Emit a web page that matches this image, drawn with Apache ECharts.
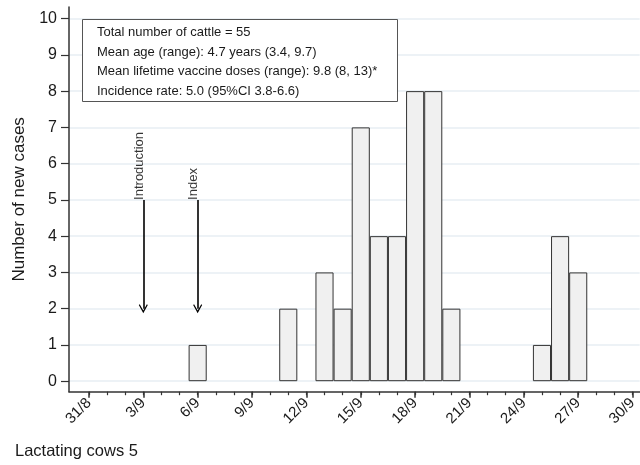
<!DOCTYPE html>
<html>
<head>
<meta charset="utf-8">
<script src="https://cdn.jsdelivr.net/npm/echarts@6/dist/echarts.min.js"></script>
<style>
html,body{margin:0;padding:0;background:#fff;}
#chart{width:640px;height:465px;}
</style>
</head>
<body>
<div id="chart"></div>
<script>
// ---- data ----
const tickLabels = ['31/8','3/9','6/9','9/9','12/9','15/9','18/9','21/9','24/9','27/9','30/9'];
const caseDates = ['6/9','11/9','13/9','14/9','15/9','16/9','17/9','18/9','19/9','20/9','25/9','26/9','27/9'];
const newCases = [1,2,3,2,7,4,4,8,8,2,1,4,3];
const yTicks = [0,1,2,3,4,5,6,7,8,9,10];
const annotationNames = ['Introduction','Index'];
const annotationDates = ['3/9','6/9'];
const arrowFrom = 5;
const arrowTo = 2;
const infoLines = [
  'Total number of cattle = 55',
  'Mean age (range): 4.7 years (3.4, 9.7)',
  'Mean lifetime vaccine doses (range): 9.8 (8, 13)*',
  'Incidence rate: 5.0 (95%CI 3.8-6.6)'
];
const footer = 'Lactating cows 5';
const yTitle = 'Number of new cases';

// day index: 31/8 -> 0, d/9 -> d
function dayIndex(s){
  const p = s.split('/');
  return p[1] === '8' ? Number(p[0]) - 31 : Number(p[0]);
}
const majorTickVals = tickLabels.map(dayIndex);
const labelByVal = {};
tickLabels.forEach(t => labelByVal[dayIndex(t)] = t);
const minorTickVals = [];
for (let d = majorTickVals[0]; d <= majorTickVals[majorTickVals.length-1]; d++) minorTickVals.push(d);

const barData = caseDates.map((d,i) => [dayIndex(d), newCases[i]]);
const arrowLines = annotationDates.map(d => [{coord:[dayIndex(d), arrowFrom]}, {coord:[dayIndex(d), arrowTo]}]);
const labelPoints = annotationDates.map((d,i) => ({name: annotationNames[i], value:[dayIndex(d), arrowFrom]}));

const FONT = '"Liberation Sans", Arial, sans-serif';
const chart = echarts.init(document.getElementById('chart'), null, {renderer:'canvas'});

const graphics = [
  {type:'rect', left:82, top:19, z:100, shape:{width:315, height:82},
   style:{fill:'#fff', stroke:'#555', lineWidth:1}}
];
const lineY = [32.5, 52, 71.5, 91];
infoLines.forEach((t,i) => graphics.push({
  type:'text', x:97, y:lineY[i], z:101,
  style:{text:t, fill:'#1a1a1a', font:'13px ' + FONT, verticalAlign:'middle', align:'left'}
}));
graphics.push({type:'text', x:15, y:451, z:101,
  style:{text:footer, fill:'#1a1a1a', font:'16.5px ' + FONT, verticalAlign:'middle', align:'left'}});

chart.setOption({
  animation:false,
  backgroundColor:'#fff',
  grid:{left:69, right:0, top:7, bottom:73.3, containLabel:false},
  xAxis:[{
    type:'value', min:-1.1, max:30.39, position:'bottom',
    axisLine:{show:true, onZero:false, lineStyle:{color:'#333', width:1.5}},
    axisTick:{show:true, customValues:majorTickVals, length:6, lineStyle:{color:'#333', width:1.5}},
    axisLabel:{show:true, customValues:majorTickVals, formatter:v => labelByVal[v] || '',
      rotate:45, margin:9, fontSize:15, color:'#1a1a1a', fontFamily:FONT},
    splitLine:{show:false}
  },{
    type:'value', min:-1.1, max:30.39, position:'bottom', gridIndex:0, offset:0,
    axisLine:{show:false, onZero:false},
    axisTick:{show:true, customValues:minorTickVals, length:3.5, lineStyle:{color:'#333', width:1.2}},
    axisLabel:{show:false},
    splitLine:{show:false}
  }],
  yAxis:{
    type:'value', min:-0.29, max:10.32,
    name:yTitle, nameLocation:'middle', nameGap:37, nameRotate:90,
    nameTextStyle:{fontSize:17, color:'#1a1a1a', fontFamily:FONT},
    axisLine:{show:true, onZero:false, lineStyle:{color:'#333', width:1.5}},
    axisTick:{show:true, customValues:yTicks, length:8, lineStyle:{color:'#333', width:1.2}},
    axisLabel:{show:true, customValues:yTicks, margin:12, fontSize:16, color:'#1a1a1a', fontFamily:FONT},
    splitLine:{show:true, lineStyle:{color:'#edf2f6', width:2}}
  },
  series:[{
    type:'bar', xAxisIndex:0, data:barData, barWidth:18.1,
    itemStyle:{color:'#f0f0f0', borderColor:'#333', borderWidth:1},
    z:5,
    markLine:{
      silent:true, animation:false,
      symbol:['none','path://M5,0 L10,9 L9,10 L5,3 L1,10 L0,9 Z'],
      symbolSize:9,
      lineStyle:{color:'#000', width:1.6, type:'solid'},
      itemStyle:{color:'#000'},
      label:{show:false},
      emphasis:{disabled:true},
      data:arrowLines
    }
  },{
    type:'scatter', xAxisIndex:0, data:labelPoints, symbolSize:0, silent:true,
    label:{show:true, formatter:'{b}', position:[0,0], rotate:90, align:'left', verticalAlign:'middle',
      offset:[0,-4], fontSize:13, color:'#000', fontFamily:FONT}
  }],
  graphic:graphics
});
</script>
</body>
</html>
